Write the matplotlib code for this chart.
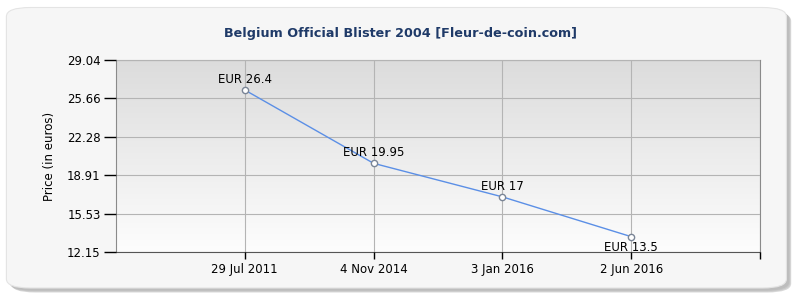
import matplotlib
matplotlib.use("Agg")
import numpy as np
import matplotlib.pyplot as plt
from matplotlib.patches import FancyBboxPatch

# --- data ---
dates = ["29 Jul 2011", "4 Nov 2014", "3 Jan 2016", "2 Jun 2016"]
prices = [26.4, 19.95, 17, 13.5]
labels = ["EUR 26.4", "EUR 19.95", "EUR 17", "EUR 13.5"]
yticks = [12.15, 15.53, 18.91, 22.28, 25.66, 29.04]

fig = plt.figure(figsize=(8, 3), dpi=100)
fig.patch.set_facecolor("white")

# rounded outer frame with a soft shadow
for off, col in [(0.010, "#d8d8d8"), (0.007, "#c8c8c8"), (0.004, "#bdbdbd")]:
    fig.patches.append(FancyBboxPatch((0.010 + off * 0.4, 0.035 - off), 0.975, 0.935,
                                      boxstyle="round,pad=0,rounding_size=0.03",
                                      transform=fig.transFigure, fc=col, ec="none", zorder=0))
fig.patches.append(FancyBboxPatch((0.008, 0.04), 0.975, 0.935,
                                  boxstyle="round,pad=0,rounding_size=0.03",
                                  transform=fig.transFigure, fc="#f6f6f6", ec="#e4e4e4",
                                  lw=0.8, zorder=1))

ax = fig.add_axes([0.145, 0.16, 0.805, 0.64])
ax.set_zorder(2)
x = np.arange(1, len(dates) + 1)

# gradient background
grad = np.linspace(0, 1, 256).reshape(-1, 1)
ax.imshow(grad, extent=[0, 5, yticks[0], yticks[-1]], aspect="auto",
          cmap=matplotlib.colors.LinearSegmentedColormap.from_list("g", ["#dcdcdc", "#fdfdfd"]),
          origin="upper", zorder=0)

ax.plot(x, prices, color="#5b8fe6", lw=1, marker="o", ms=4.5, mfc="white",
        mec="#7a8596", mew=1, zorder=3, clip_on=False)
for i, (xi, yi, lab) in enumerate(zip(x, prices, labels)):
    below = i == len(prices) - 1
    ax.annotate(lab, (xi, yi), xytext=(0, -3 if below else 3), textcoords="offset points",
                ha="center", va="top" if below else "bottom", fontsize=8.5, zorder=4)

ax.set_xlim(0, 5)
ax.set_ylim(yticks[0], yticks[-1])
ax.set_xticks(list(x) + [5])
ax.set_xticklabels(dates + [""], fontsize=8.5)
ax.set_yticks(yticks)
ax.set_yticklabels([f"{v:.2f}" for v in yticks], fontsize=8.5)
ax.tick_params(axis="x", direction="out", length=5, width=1, pad=3)
ax.tick_params(axis="y", direction="out", length=9, width=1, pad=2)
ax.grid(True, color="#b4b4b4", lw=0.8, zorder=1)
ax.set_axisbelow(False)
for s in ax.spines.values():
    s.set_color("#8a8a8a")
    s.set_linewidth(0.8)
ax.spines["bottom"].set_color("#555555")

ax.set_ylabel("Price (in euros)", fontsize=8.5, labelpad=8)
fig.text(0.5, 0.89, "Belgium Official Blister 2004 [Fleur-de-coin.com]",
         ha="center", va="center", fontsize=9.2, fontweight="bold", color="#1f3a68", zorder=3)

fig.savefig("out.png", dpi=100)
